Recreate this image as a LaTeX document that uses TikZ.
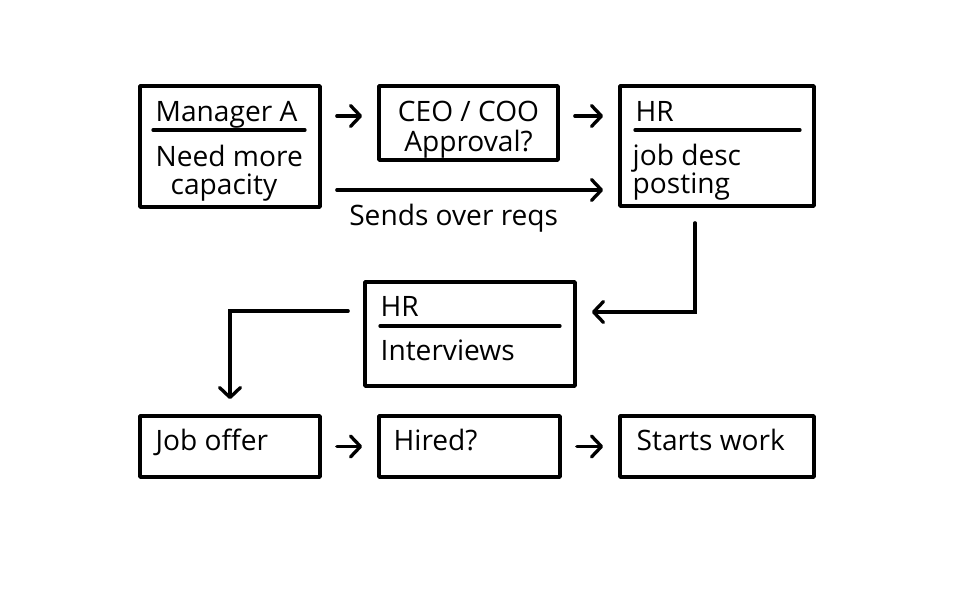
\documentclass[tikz,border=0pt]{standalone}
\usepackage{fontspec}
\setmainfont{Open Sans}
\usetikzlibrary{arrows.meta,calc}

\tikzstyle{box}=[draw,line width=1.05pt,inner sep=0pt,line join=round]
\tikzstyle{txt}=[anchor=base west,inner sep=0pt,font=\fontsize{8}{9.6}\selectfont]
\tikzstyle{rule}=[line width=0.95pt,line cap=round]
\tikzstyle{flow}=[draw,line width=0.95pt,line cap=round,shorten <=0.15cm,shorten >=0.15cm,
                  -{Straight Barb[length=1mm,width=2.1mm,round]}]

\begin{document}
\begin{tikzpicture}
                  \useasboundingbox (0,0) rectangle (9.6,6);
                  % First we draw the boxes
                  \foreach \pos/\name/\w/\h in {{(2.30,4.535)/mgr/1.80/1.21},
                  {(4.685,4.77)/ceo/1.79/0.74},
                  {(7.17,4.54)/hrpost/1.94/1.20},
                  {(4.70,2.66)/hrint/2.10/1.04},
                  {(2.30,1.535)/offer/1.80/0.61},
                  {(4.695,1.535)/hired/1.81/0.61},
                  {(7.17,1.535)/starts/1.94/0.61}}
                        \node[box,minimum width=\w cm,minimum height=\h cm] (\name) at \pos {};
                  % Then the texts inside them
                  \foreach \pos/\name/\la in {{(1.55,4.78)/tmgr/Manager A},
                  {(1.55,4.33)/tneed/Need more},
                  {(1.70,4.05)/tcap/capacity},
                  {(6.35,4.78)/thrpost/HR},
                  {(6.32,4.34)/tjob/job desc},
                  {(6.32,4.06)/tpost/posting},
                  {(3.80,2.83)/thrint/HR},
                  {(3.80,2.39)/tint/Interviews},
                  {(1.55,1.49)/toffer/Job offer},
                  {(3.93,1.49)/thired/Hired?},
                  {(6.36,1.49)/tstarts/Starts work}}
                        \node[txt] (\name) at \pos {\la};
                  \node[txt,anchor=base] (tceo) at (4.685,4.78) {CEO / COO};
                  \node[txt,anchor=base] (tappr) at (4.685,4.48) {Approval?};
                  % Lines under the titles
                  \draw[rule] (1.53,4.70) -- (3.05,4.70);
                  \draw[rule] (6.35,4.70) -- (8.00,4.70);
                  \draw[rule] (3.80,2.74) -- (5.60,2.74);
                  % Connect the boxes with arrows
                  \path[flow] ($(mgr.east |- ceo.west)+(0,0.07)$) -- ($(ceo.west)+(0,0.07)$);
                  \path[flow] ($(ceo.east)+(0,0.07)$) -- ($(ceo.east -| hrpost.west)+(0,0.07)$);
                  \path[flow] ($(mgr.east)+(0,-0.435)$) -- ($(mgr.east -| hrpost.west)+(0,-0.435)$)
                        node[txt,anchor=base,pos=0.445,yshift=-0.36cm] (treqs) {Sends over reqs};
                  \path[flow] ([xshift=-0.22cm]hrpost.south) |- ($(hrint.east)+(0,0.22)$);
                  \path[flow] ($(hrint.west)+(0,0.23)$) -| (offer.north);
                  \path[flow] (offer) -- (hired);
                  \path[flow] (hired) -- (starts);
            \end{tikzpicture}
\end{document}
